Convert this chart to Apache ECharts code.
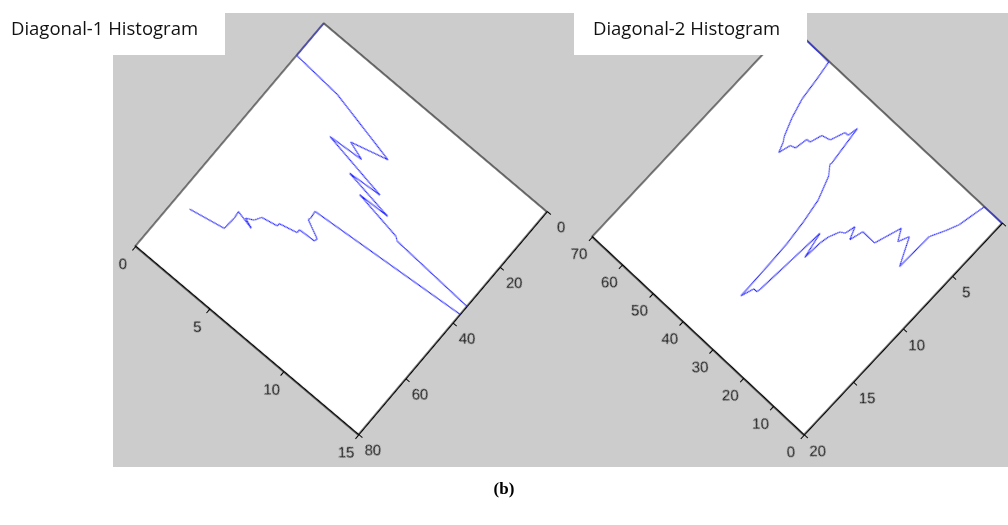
<!DOCTYPE html>
<html><head><meta charset="utf-8">
<script src="https://cdn.jsdelivr.net/npm/echarts@6/dist/echarts.min.js"></script>
<style>
html,body{margin:0;padding:0;width:1008px;height:525px;overflow:hidden;background:#fff;}
.layer{position:absolute;}
#bg,#fg{left:0;top:0;width:1008px;height:525px;}
#fg{pointer-events:none;}
#c1,#c2{width:420px;height:420px;transform-origin:50% 50%;}
</style></head><body>
<div id="bg" class="layer"></div>
<div id="c1" class="layer"></div>
<div id="c2" class="layer"></div>
<div id="fg" class="layer"></div>
<script>
// ---- Diagonal-1 histogram (bin index, count), vertices in drawing order
const bins1 = [0, 11.5, 12.5, 17.2, 20.1, 21.8, 22.6, 26.0, 26.8, 29.1, 29.5, 31.8, 32.6, 35, 40.9, 43.1, 43.8, 46.3, 47.2, 47.5, 48.5, 49.8, 50.6, 51.6, 53.5, 54.6, 55.7, 54.5, 56.5, 60.5, 62.6];
const counts1 = [0, 0, 2.9, 7.05, 5.0, 6.0, 4.0, 7.9, 6.0, 8.9, 7.1, 9.9, 10.1, 19, 5.9, 5.95, 5.9, 6.9, 6.85, 5.9, 5.9, 4.9, 4.9, 4.0, 3.8, 3.4, 3.95, 2.9, 2.95, 2.9, 0.9];
const binTicks1 = [0, 20, 40, 60, 80];
const countTicks1 = [0, 5, 10, 15];

// ---- Diagonal-2 histogram (bin index, count), vertices in drawing order
const bins2 = [0, 5.8, 7.3, 8.65, 10.6, 10.9, 14.1, 15.3, 16.9, 19.2, 23.1, 24.1, 25.3, 26.0, 27.1, 28.3, 28.8, 29.1, 30.4, 31.7, 31.9, 32.9, 34.0, 34.2, 34.5, 35.2, 36.2, 38.3, 40.0, 39.9, 41.1, 41.6, 42.6, 44.0, 46.2, 47.2, 48.2, 48.8, 50.1, 51.0, 51.9, 52.7, 54.4, 55.7, 56.4, 57.1, 64.2];
const counts2 = [0, 0, 2.1, 3.0, 4.1, 7.0, 5.04, 5.84, 5.0, 7.0, 6.98, 8.0, 7.1, 7.9, 8.07, 8.87, 9.57, 11.0, 9.09, 14.7, 15.0, 15.0, 15.95, 13.6, 11.2, 9.3, 7.5, 5.8, 5.15, 4.98, 2.05, 2.82, 2.83, 3.9, 4.07, 4.96, 4.97, 5.94, 6.06, 6.95, 6.24, 5.87, 4.57, 3.17, 1.45, 0.06, 0];
const binTicks2 = [0, 10, 20, 30, 40, 50, 60, 70];
const countTicks2 = [0, 5, 10, 15, 20];

const titles = ['Diagonal-1 Histogram', 'Diagonal-2 Histogram'];
const caption = '(b)';

const BOX = 420;
const AXIS_COLOR = '#000000';
const LABEL_FONT = "'Liberation Sans', Arial, sans-serif";

function axisOf(ticks, inverse, rot) {
  return {
    type: 'value',
    min: ticks[0], max: ticks[ticks.length - 1], interval: ticks[1] - ticks[0],
    inverse: inverse,
    axisLine: {show: true, onZero: false, lineStyle: {color: AXIS_COLOR, width: 1.1}},
    axisTick: {show: true, length: 5, lineStyle: {color: AXIS_COLOR, width: 1}},
    axisLabel: {rotate: rot, margin: 19, align: 'center', verticalAlign: 'top', lineHeight: 8,
      color: '#1a1a1a', fontSize: 15, fontFamily: LABEL_FONT},
    splitLine: {show: false}
  };
}

function makePlot(id, cx, cy, side, angle, xAxis, yAxis, pairs) {
  const el = document.getElementById(id);
  el.style.left = (cx - BOX / 2) + 'px';
  el.style.top = (cy - BOX / 2) + 'px';
  el.style.transform = 'rotate(' + angle + 'deg)';
  const chart = echarts.init(el, null, {renderer: 'canvas'});
  const pad = (BOX - side) / 2;
  chart.setOption({
    animation: false,
    grid: {left: pad, top: pad, width: side, height: side, show: true,
      backgroundColor: '#ffffff', borderColor: AXIS_COLOR, borderWidth: 1.1,
      containLabel: false, outerBoundsMode: 'none'},
    xAxis: xAxis,
    yAxis: yAxis,
    series: [{type: 'line', data: pairs, symbol: 'none', showSymbol: false, clip: true,
      lineStyle: {color: '#1f1fff', width: 1}}]
  });
}

// left plot: x = bin (inverse), y = count (inverse); labels counter-rotated to stay upright
const rot1 = -49.8;
makePlot('c1', 341.3, 229, 292, rot1,
  axisOf(binTicks1, true, rot1),
  axisOf(countTicks1, true, rot1),
  bins1.map((b, i) => [b, counts1[i]]));

// right plot: x = count (inverse), y = bin
const rot2 = -46.9;
makePlot('c2', 796.9, 229.75, 290, rot2,
  axisOf(countTicks2, true, rot2),
  axisOf(binTicks2, false, rot2),
  bins2.map((b, i) => [counts2[i], b]));

// background
const bg = echarts.init(document.getElementById('bg'));
bg.setOption({
  animation: false,
  graphic: [
    {type: 'rect', shape: {x: 113, y: 13, width: 895, height: 454}, style: {fill: '#cccccc'}},
    {type: 'text', x: 504, y: 490, style: {text: caption, font: "bold 17px 'Liberation Serif', 'Times New Roman', serif",
      fill: '#000', align: 'center', verticalAlign: 'middle'}}
  ]
});

// foreground title boxes
const fg = echarts.init(document.getElementById('fg'));
fg.setOption({
  animation: false,
  graphic: [
    {type: 'rect', shape: {x: 113, y: 13, width: 112, height: 42}, style: {fill: '#ffffff'}},
    {type: 'rect', shape: {x: 574, y: 13, width: 233, height: 42}, style: {fill: '#ffffff'}},
    {type: 'text', x: 11, y: 30, style: {text: titles[0], font: "18.5px 'Open Sans', sans-serif", fill: '#111', align: 'left', verticalAlign: 'middle'}},
    {type: 'text', x: 593, y: 30, style: {text: titles[1], font: "18.5px 'Open Sans', sans-serif", fill: '#111', align: 'left', verticalAlign: 'middle'}}
  ]
});
</script>
</body></html>
